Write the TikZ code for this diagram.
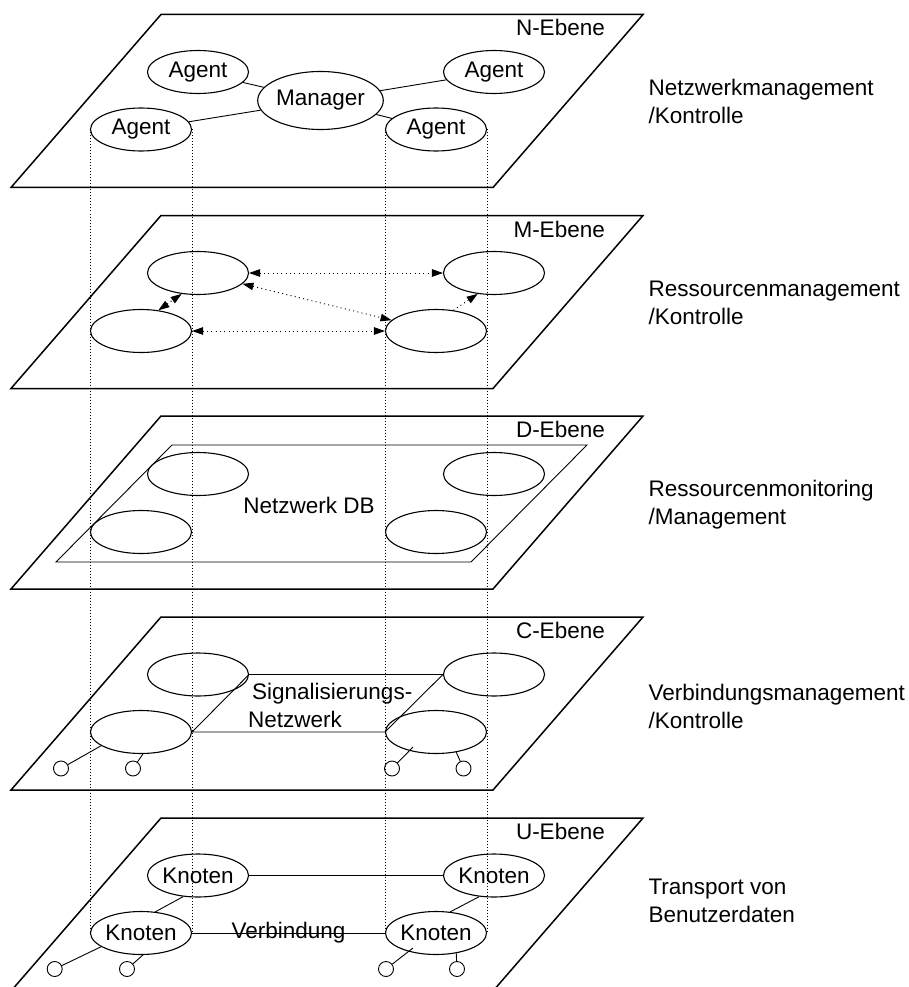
\documentclass[tikz,border=0pt]{standalone}
\usepackage{fontspec}
\setmainfont{Liberation Sans}
\usetikzlibrary{shapes.geometric,arrows.meta,calc}
\begin{document}
\begin{tikzpicture}[x=1pt,y=-1pt,
  every node/.style={font=\fontsize{22.5}{28}\selectfont},
  plane/.style={line width=1.5pt, line join=miter},
  ell/.style={draw, ellipse, line width=1.1pt, minimum width=101pt, minimum height=43pt, inner sep=0pt},
  mgr/.style={draw, ellipse, line width=1.1pt, minimum width=115pt, minimum height=58pt, inner sep=0pt},
  port/.style={draw, circle, line width=0.9pt, minimum size=15pt, inner sep=0pt},
  link/.style={line width=0.9pt},
  guide/.style={line width=0.9pt, dash pattern=on 0.9pt off 2.1pt},
  tip/.tip={Triangle[length=11pt,width=7.5pt]},
  darrow/.style={line width=0.9pt, dash pattern=on 1pt off 3.3pt, tip-tip},
  sarrow/.style={line width=0.9pt, dash pattern=on 1pt off 3.3pt, -tip},
  side/.style={anchor=west, align=left}
]
\useasboundingbox (0,0) rectangle (908,987);
\clip (0,0) rectangle (908,987);

% the five planes with their names
\foreach \p/\lab/\t in {n/N/14.5, m/M/215.5, d/D/416, c/C/617, u/U/818}{
  \draw[plane] (161,\t) -- (643,\t) -- (493,\t+173) -- (11,\t+173) -- cycle;
  \node[anchor=base east, inner sep=0pt] (\p-lab) at (605,\t+21.5) {\lab-Ebene};
}

% N plane: manager and agents
\node[ell] (n-ul) at (198,72) {Agent};
\node[ell] (n-ur) at (494,72) {Agent};
\node[ell] (n-ll) at (141,129.5) {Agent};
\node[ell] (n-lr) at (436,129.5) {Agent};
\node[mgr] (n-mg) at (320.5,100.5) {Manager};
\draw[link] (n-ul) -- (n-mg);
\draw[link] (n-mg) -- (n-ur);
\draw[link] (n-ll) -- (n-mg);
\draw[link] (n-mg) -- (n-lr);

% four ellipses on each lower plane
\foreach \p/\txt/\ya/\yb in {m/{}/273/331, d/{}/474/532, c/{}/674.5/732, u/Knoten/875.5/933}{
  \node[ell] (\p-ul) at (198,\ya) {\txt};
  \node[ell] (\p-ur) at (494,\ya) {\txt};
  \node[ell] (\p-ll) at (141,\yb) {\txt};
  \node[ell] (\p-lr) at (436,\yb) {\txt};
}

% M plane: resource relations
\draw[darrow] (m-ul) -- (m-ur);
\draw[darrow] (m-ll) -- (m-lr);
\draw[darrow] (m-ul) -- (m-lr);
\draw[darrow] (m-ll.50) -- (m-ul.-128);
\draw[sarrow] (m-lr.50) -- (m-ur.-128);

% D plane: network database
\draw[link] (172,445) -- (587,445) -- (471,562) -- (56,562) -- cycle;
\node (d-db) at (309,505) {Netzwerk DB};

% C plane: signalling network
\draw[link] (c-ll.east) -- (c-ul.east) -- (c-ur.west) -- (c-lr.west) -- cycle;
\node[anchor=base west, inner sep=0pt] (c-sig1) at (252,699) {Signalisierungs-};
\node[anchor=base west, inner sep=0pt] (c-sig2) at (248,727) {Netzwerk};
\node[port] (c-o1) at (61,768.5) {};
\node[port] (c-o2) at (133,768.5) {};
\node[port] (c-o3) at (392,768.5) {};
\node[port] (c-o4) at (463.5,768.5) {};
\coordinate (c-in) at ($(c-lr.center)+(-23,15)$);
\draw[link] (c-o1) -- (c-ll.199);
\draw[link] (c-o2) -- (c-ll.-85);
\draw[link] (c-o3) -- (c-in);
\draw[link] (c-o4) -- (c-lr.-45);

% U plane: user data transport
\draw[link] (u-ul) -- (u-ur);
\draw[link] (u-ll) -- node (u-con) {Verbindung} (u-lr);
\draw[link] (u-ll.56) -- (u-ul.-125);
\draw[link] (u-lr.56) -- (u-ur.-125);
\node[port] (u-o1) at (54.7,969) {};
\node[port] (u-o2) at (127,969) {};
\node[port] (u-o3) at (386,969) {};
\node[port] (u-o4) at (457,969) {};
\coordinate (u-in) at ($(u-lr.center)+(-23,15)$);
\draw[link] (u-o1) -- (u-ll.199);
\draw[link] (u-o2) -- (u-ll.-85);
\draw[link] (u-o3) -- (u-in);
\draw[link] (u-o4) -- (u-lr.-45);

% vertical dotted guides through the stack
\draw[guide] (n-ll.west) -- (u-ll.west);
\draw[guide] (n-ll.east) -- (u-ll.east);
\draw[guide] (n-lr.west) -- (u-lr.west);
\draw[guide] (n-lr.east) -- (u-lr.east);

% functions of the planes
\node[side] (r-n) at (645,101) {Netzwerkmanagement\\/Kontrolle};
\node[side] (r-m) at (645,303) {Ressourcenmanagement\\/Kontrolle};
\node[side] (r-d) at (645,505) {Ressourcenmonitoring\\/Management};
\node[side] (r-c) at (645,706) {Verbindungsmanagement\\/Kontrolle};
\node[side] (r-u) at (645,901) {Transport von\\Benutzerdaten};
\end{tikzpicture}
\end{document}
